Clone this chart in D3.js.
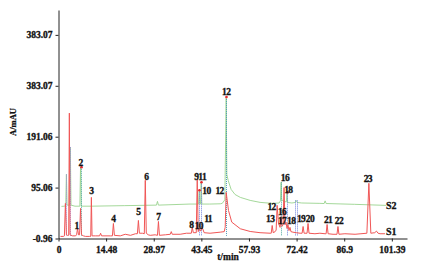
<!DOCTYPE html>
<html>
<head>
<meta charset="utf-8">
<script src="https://cdn.jsdelivr.net/npm/d3@7"></script>
<style>
  body { margin: 0; background: #fff; }
  text { font-family: "Liberation Serif", "DejaVu Serif", serif; font-weight: bold; }
</style>
</head>
<body>
<div id="chart"></div>
<script>
// axis ticks (the source figure repeats 383.07 on the fourth tick)
const xTicks = [0, 14.48, 28.97, 43.45, 57.93, 72.42, 86.9, 101.39];
const xTickLabels = ['0', '14.48', '28.97', '43.45', '57.93', '72.42', '86.9', '101.39'];
const yTicks = [-0.96, 95.06, 191.06, 287.07, 383.07];
const yTickLabels = ['-0.96', '95.06', '191.06', '383.07', '383.07'];

// S1 trace [t/min, A/mAU]
const s1Trace = [
  [0.6, 3], [1.5, 3], [1.8, 4], [2.1, 65.3], [2.4, 6], [2.7, 5], [3.1, 5], [3.3, 235.5], [3.5, 6],
  [4.3, 4], [5.2, 4], [5.5, 6], [5.8, 18], [6.1, 6], [6.4, 6], [6.7, 55.8], [7.0, 6], [7.6, 4],
  [8.2, 3], [9.4, 3], [9.8, 3], [10.0, 76.6], [10.2, 4], [11.2, 4], [12.5, 4], [12.8, 9], [13.1, 4],
  [15.8, 4], [16.4, 4], [16.7, 27.4], [17.0, 5], [18.8, 4], [20.3, 7], [21.9, 5], [23.4, 8],
  [24.0, 8], [24.3, 33.1], [24.6, 9], [25.5, 9], [26.1, 8], [26.4, 108.8], [26.7, 9], [27.3, 6],
  [27.9, 5], [29.4, 6], [30.1, 5], [30.4, 31.2], [30.7, 5], [32.5, 6], [34.0, 7], [34.3, 12],
  [34.6, 7], [37.0, 7], [38.9, 9], [40.4, 9], [40.7, 19.9], [41.0, 10], [41.9, 10], [42.2, 110.7],
  [42.5, 12], [42.8, 18], [43.2, 13], [43.7, 20], [44.3, 10], [46.1, 9], [49.2, 11], [50.4, 12],
  [50.7, 20], [51.0, 86.1], [51.7, 52], [52.7, 29.9], [55.3, 17.4], [58.3, 12.3], [61.3, 10],
  [64.4, 9], [64.7, 9], [65.0, 23.6], [65.3, 10], [65.9, 12], [66.2, 15], [66.5, 61.5], [66.9, 28],
  [67.4, 20], [67.7, 40], [68.0, 22], [68.3, 25], [68.6, 95], [68.9, 25], [69.2, 30], [69.5, 18],
  [69.8, 25], [70.1, 14], [70.4, 20], [70.7, 12], [71.3, 11], [72.3, 10], [73.5, 9], [74.1, 9],
  [74.4, 21.7], [74.7, 9], [75.6, 9], [75.9, 27.4], [76.2, 9], [78.0, 8], [79.5, 9], [81.1, 8],
  [81.4, 8], [81.7, 25.5], [82.0, 8], [83.5, 7], [84.7, 7], [85.0, 21.7], [85.3, 7], [87.1, 8],
  [90.2, 7], [92.0, 8], [93.8, 9], [94.4, 103.1], [95.0, 9], [96.2, 10], [96.7, 13], [97.2, 9],
  [97.8, 8], [99.3, 8]
];

// S2 trace
const s2Trace = [
  [0.9, 59.6], [1.8, 60], [2.2, 62], [2.4, 120], [2.6, 62], [3.4, 62], [3.6, 171.2], [3.8, 62],
  [5.0, 60], [6.5, 60], [6.7, 133.4], [6.9, 60], [10, 60], [20, 61], [29.8, 62], [30.1, 69],
  [30.4, 62], [40, 64], [42.6, 64], [42.8, 89.9], [43.0, 64], [43.2, 64], [43.4, 105], [43.6, 64], [46, 64],
  [49.2, 64.5], [49.8, 65.3], [50.6, 72], [51.0, 265.8], [51.2, 120], [51.6, 108.8], [52.5, 91.7],
  [53.7, 82], [55.3, 76.6], [58.3, 70.9], [61.3, 67.2], [65.0, 65.3], [67.1, 66], [67.5, 70],
  [67.7, 105], [67.9, 72], [68.6, 69], [69.3, 68], [69.5, 86.1], [69.7, 67], [71.0, 66], [72.0, 67],
  [72.3, 70.9], [72.6, 67], [74, 66], [79.5, 65.3], [80.8, 65], [81.1, 70], [81.4, 65], [90, 63.5],
  [99.6, 61.5]
];

// S2 peak markers: dotted drop lines, some with a red apex dot
const markerT = [2.4, 3.6, 6.7, 42.8, 43.4, 51.0, 67.7, 69.5, 72.0, 72.6];
const markerV = [120, 171.2, 133.4, 89.9, 105, 265.8, 105, 86.1, 70.9, 70.9];
const markerColor = ['#9a88e0', '#9a88e0', '#4fa8a0', '#6f80dd', '#6f80dd', '#4f9ab8', '#4fa8a0', '#6f80dd', '#6f80dd', '#6f80dd'];
const markerDot = [false, false, true, true, true, true, false, true, false, false];

// peak numbers [text, t, v]
const peakLabels = [
  ['1', 5.5, 16.1], ['2', 6.7, 135.3], ['3', 10.0, 82.3], ['4', 16.7, 29.3], ['5', 24.3, 42.6],
  ['6', 26.7, 108.8], ['7', 30.4, 33.1], ['8', 40.4, 18], ['911', 43.1, 108.8], ['10', 42.7, 16.1],
  ['10', 45.0, 82.3], ['11', 45.5, 29.3], ['12', 51.0, 269.6], ['12', 49.0, 82.3], ['13', 64.4, 30.3],
  ['12', 64.8, 52], ['16', 68.9, 107], ['18', 69.9, 84.2], ['16', 68.0, 43.5], ['17', 68.0, 25.5],
  ['18', 70.8, 25.5], ['19', 73.8, 29.3], ['20', 76.5, 29.3], ['21', 82.0, 27.4], ['22', 85.3, 25.5],
  ['23', 94.1, 105]
];
const seriesLabels = [['S2', 99.6, 53.9], ['S1', 99.6, 4.7]];

const width = 427, height = 267;
const svg = d3.select('#chart').append('svg')
  .attr('width', width).attr('height', height);

const x = d3.scaleLinear().domain([0, 106]).range([58.5, 407]);
const y = d3.scaleLinear().domain([-0.96, 430]).range([238.5, 10]);

const line = d3.line().x(d => x(d[0])).y(d => y(d[1]));

// S2 (green)
svg.append('path').datum(s2Trace)
  .attr('d', line).attr('fill', 'none')
  .attr('stroke', '#9ad48e').attr('stroke-width', 0.9);

// dotted drop lines
markerT.forEach((t, i) => {
  svg.append('line')
    .attr('x1', Math.round(x(t)) + 0.5).attr('x2', Math.round(x(t)) + 0.5)
    .attr('y1', y(markerV[i])).attr('y2', y(4))
    .attr('stroke', markerColor[i]).attr('stroke-width', 1)
    .attr('stroke-dasharray', '1,1');
});

// S1 (red)
svg.append('path').datum(s1Trace)
  .attr('d', line).attr('fill', 'none')
  .attr('stroke', '#f05656').attr('stroke-width', 1);

// apex dots
markerT.forEach((t, i) => {
  if (!markerDot[i]) return;
  svg.append('circle')
    .attr('cx', Math.round(x(t)) + 0.5).attr('cy', y(markerV[i]))
    .attr('r', 1.3).attr('fill', '#e8282e');
});

// axes
const xAxis = svg.append('g')
  .attr('transform', 'translate(0,238.5)')
  .call(d3.axisBottom(x).tickValues(xTicks)
    .tickFormat((d, i) => xTickLabels[i]).tickSize(3).tickSizeOuter(0));
const yAxis = svg.append('g')
  .attr('transform', 'translate(58.5,0)')
  .call(d3.axisLeft(y).tickValues(yTicks)
    .tickFormat((d, i) => yTickLabels[i]).tickSize(3).tickSizeOuter(0));

[xAxis, yAxis].forEach(a => {
  a.select('.domain').attr('stroke', '#222');
  a.selectAll('.tick line').attr('stroke', '#222');
  a.selectAll('.tick text')
    .attr('fill', '#111').attr('stroke', '#111').attr('stroke-width', 0.3)
    .attr('font-size', '9.5px')
    .attr('font-family', '"Liberation Serif", serif').attr('font-weight', 'bold');
});
xAxis.selectAll('.tick text').attr('dy', '0.9em');

// axis titles
svg.append('text')
  .attr('transform', 'translate(16,122) rotate(-90)')
  .attr('text-anchor', 'middle').attr('font-size', '8.5px')
  .attr('fill', '#111').attr('stroke', '#111').attr('stroke-width', 0.25)
  .text('A/mAU');
svg.append('text')
  .attr('x', 228).attr('y', 260)
  .attr('text-anchor', 'middle').attr('font-size', '9.5px')
  .attr('fill', '#111').attr('stroke', '#111').attr('stroke-width', 0.25)
  .text('t/min');

// peak labels
svg.append('g').selectAll('text').data(peakLabels).join('text')
  .attr('x', d => x(d[1])).attr('y', d => y(d[2]))
  .attr('text-anchor', 'middle').attr('font-size', '9.5px')
  .attr('letter-spacing', '-0.6px')
  .attr('fill', '#111').attr('stroke', '#111').attr('stroke-width', 0.3)
  .text(d => d[0]);

// series labels
svg.append('g').selectAll('text').data(seriesLabels).join('text')
  .attr('x', d => x(d[1])).attr('y', d => y(d[2]))
  .attr('font-size', '10px')
  .attr('fill', '#111').attr('stroke', '#111').attr('stroke-width', 0.3)
  .text(d => d[0]);
</script>
</body>
</html>
